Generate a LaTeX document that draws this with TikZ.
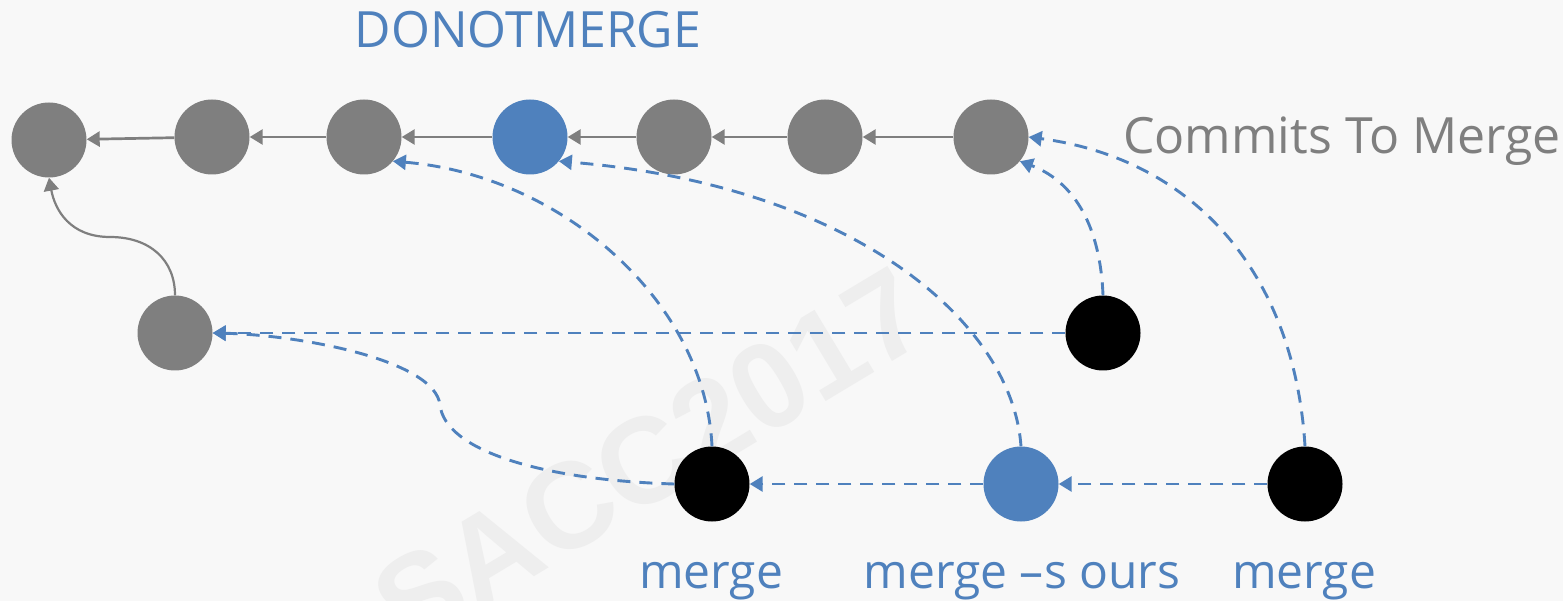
\documentclass[tikz,border=0pt]{standalone}
\usepackage{fontspec}
\setmainfont{Open Sans}
\newfontfamily\wmfont{Liberation Sans}
\usetikzlibrary{arrows.meta}
\definecolor{bgc}{HTML}{F8F8F8}
\definecolor{cgray}{HTML}{7F7F7F}
\definecolor{cblue}{HTML}{4F81BD}
\definecolor{wmc}{HTML}{EEEEEE}
\tikzset{
  commit/.style={circle, minimum size=75pt, inner sep=0pt, draw=none},
  gc/.style={commit, fill=cgray},
  bc/.style={commit, fill=cblue},
  kc/.style={commit, fill=black},
  solidarr/.style={draw=cgray, line width=2.7pt, -{Triangle[length=13pt,width=15pt]}},
  dasharr/.style={draw=cblue, line width=2.9pt, dash pattern=on 13pt off 9pt, -{Triangle[length=13pt,width=15pt]}},
  lbl/.style={inner sep=0pt, anchor=base, text=cblue, font=\fontsize{48}{58}\selectfont},
}
\begin{document}
\begin{tikzpicture}[x=1pt,y=-1pt]
\fill[bgc] (0,0) rectangle (1563,601);
\useasboundingbox (0,0) rectangle (1563,601);
% watermark
\node[inner sep=0pt, rotate=31, text=wmc, font=\wmfont\bfseries\fontsize{122}{140}\selectfont] (wm) at (650,458) {SACC2017};
% top row
\node[gc] (a1) at (49,140) {};
\node[gc] (a2) at (212,137) {};
\node[gc] (a3) at (364,137) {};
\node[bc] (a4) at (530,137) {};
\node[gc] (a5) at (674,137) {};
\node[gc] (a6) at (825,137) {};
\node[gc] (a7) at (991,137) {};
% middle row
\node[gc] (b1) at (175,333) {};
\node[kc] (c1) at (1103,333) {};
% bottom row
\node[kc] (d1) at (712,484) {};
\node[bc] (d2) at (1021,484) {};
\node[kc] (d3) at (1305,484) {};
% labels
\node[lbl] (l1) at (711,588) {merge};
\node[lbl] (l2) at (1022,588) {merge –s ours};
\node[lbl] (l3) at (1304,588) {merge};
\node[inner sep=0pt, anchor=base, text=cblue, font=\fontsize{50}{60}\selectfont] (t1) at (528,48) {DONOTMERGE};
\node[inner sep=0pt, anchor=base west, text=cgray, font=\fontsize{50}{60}\selectfont] (t2) at (1123,154) {Commits To Merge};
% solid arrows
\draw[solidarr] (a2) -- (a1);
\draw[solidarr] (a3) -- (a2);
\draw[solidarr] (a4) -- (a3);
\draw[solidarr] (a5) -- (a4);
\draw[solidarr] (a6) -- (a5);
\draw[solidarr] (a7) -- (a6);
\draw[solidarr, line width=2.2pt] (b1.north) .. controls (175,260) and (150,237) .. (110,237) .. controls (70,237) and (55,210) .. (a1.south);
% dashed arrows
\draw[dasharr] (c1.west) -- (b1.east);
\draw[dasharr] (c1.north) .. controls (1100,220) and (1070,180) .. (a7.-40);
\draw[dasharr] (d3.north) .. controls (1295,280) and (1200,160) .. (a7.east);
\draw[dasharr] (d2.north) .. controls (1012,320) and (850,185) .. (a4.-40);
\draw[dasharr] (d1.north) .. controls (705,300) and (560,175) .. (a3.-40);
\draw[dasharr] (d1.west) .. controls (540,480) and (445,450) .. (440,405) .. controls (435,360) and (300,335) .. (b1.east);
\draw[dasharr] (d2.west) -- (d1.east);
\draw[dasharr] (d3.west) -- (d2.east);
\end{tikzpicture}
\end{document}
